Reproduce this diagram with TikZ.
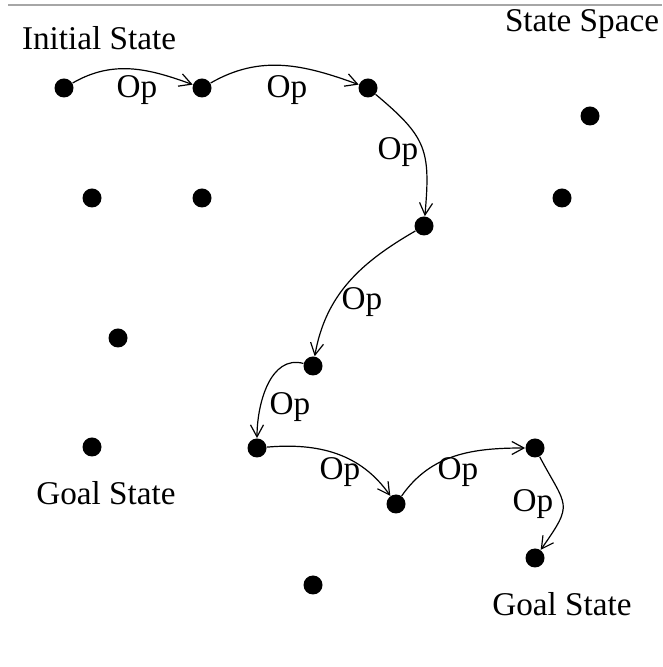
\documentclass[tikz,border=0pt]{standalone}
\usepackage{fontspec}
\setmainfont{Liberation Serif}
\usepackage{tikz}
\usetikzlibrary{arrows.meta,positioning}

\begin{document}
\begin{tikzpicture}[
  x=0.5pt,y=0.5pt,
  state/.style={circle,fill=black,inner sep=0pt,minimum size=9.5pt},
  lbl/.style={inner sep=0pt,font=\fontsize{16.6pt}{20pt}\selectfont},
  flow/.style={-{Straight Barb[length=6pt,width=6.5pt]},line width=0.6pt}
]
\useasboundingbox (0,0) rectangle (662,667);
\draw[gray!70,line width=1.2pt] (8,662) -- (662,662);

% states on the path
\node[state] (init) at (64,579) {};
\node[state] (s1) at (202,579) {};
\node[state] (s2) at (368,579) {};
\node[state] (s3) at (424,441) {};
\node[state] (s4) at (313,301) {};
\node[state] (s5) at (257,219) {};
\node[state] (s6) at (396,163) {};
\node[state] (s7) at (535,219) {};
\node[state] (goal) at (535,109) {};
% other states
\node[state] (o1) at (590,551) {};
\node[state] (o2) at (92,469) {};
\node[state] (o3) at (202,469) {};
\node[state] (o4) at (562,469) {};
\node[state] (o5) at (118,329) {};
\node[state] (o6) at (92,220) {};
\node[state] (o7) at (313,82) {};

% texts
\node[lbl] (initlbl) at (99,629) {Initial State};
\node[lbl] (spacelbl) at (582,643) {State Space};
\node[lbl] (goallbl) at (106,174) {Goal State};
\node[lbl] (goallbl2) at (562,63) {Goal State};

\node[lbl] (op1) at (137,577) {Op};
\node[lbl] (op2) at (287,577) {Op};
\node[lbl] (op3) at (398,515) {Op};
\node[lbl] (op4) at (362,365) {Op};
\node[lbl] (op5) at (290,260) {Op};
\node[lbl] (op6) at (340,195) {Op};
\node[lbl] (op7) at (458,195) {Op};
\node[lbl] (op8) at (533,163) {Op};

% operators
\draw[flow] (init) to[out=30,in=160] (s1);
\draw[flow] (s1) to[out=30,in=160] (s2);
\draw[flow] (s2) to[out=-40,in=85,looseness=1.3] (s3);
\draw[flow] (s3) to[out=-150,in=80] (s4);
\draw[flow] (s4) to[out=165,in=90] (s5);
\draw[flow] (s5) to[out=5,in=125] (s6);
\draw[flow] (s6) to[out=55,in=180] (s7);
\draw[flow] (s7) to[out=-62,in=55,looseness=1.6] (goal);
\end{tikzpicture}
\end{document}
